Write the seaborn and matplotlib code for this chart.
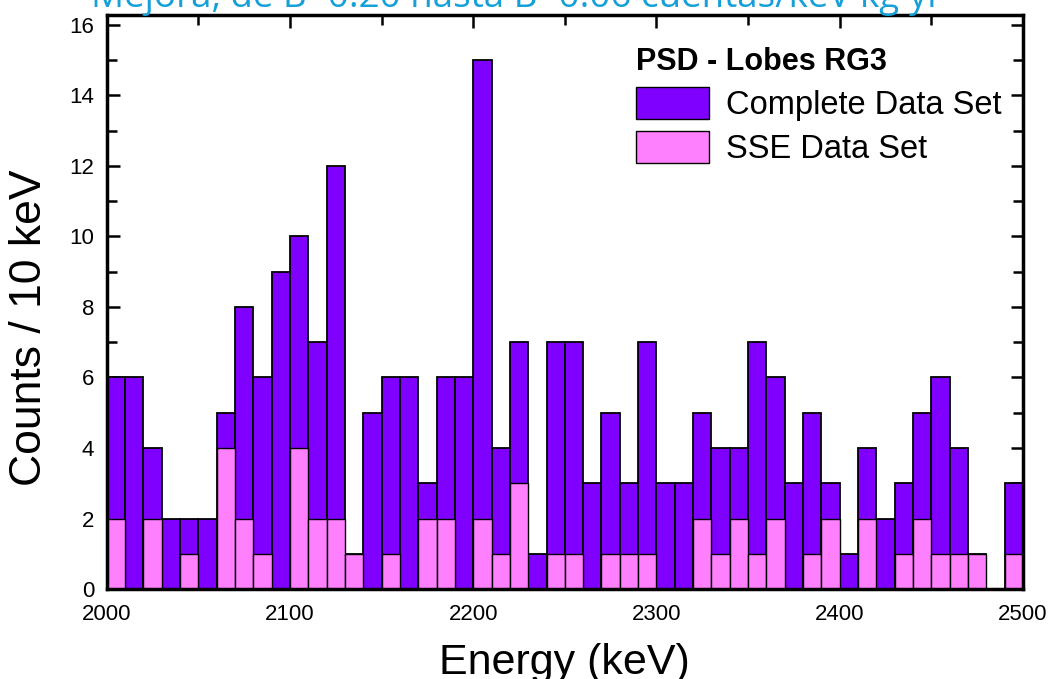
import numpy as np
import pandas as pd
import matplotlib
matplotlib.use("Agg")
import matplotlib.pyplot as plt
from matplotlib.patches import Patch
from matplotlib.ticker import MultipleLocator
import seaborn as sns

# ---- data (counts per 10 keV bin, 2000-2500 keV) ----
bin_start = np.arange(2000, 2500, 10)
complete_counts = [6, 6, 4, 2, 2, 2, 5, 8, 6, 9,
                   10, 7, 12, 1, 5, 6, 6, 3, 6, 6,
                   15, 4, 7, 1, 7, 7, 3, 5, 3, 7,
                   3, 3, 5, 4, 4, 7, 6, 3, 5, 3,
                   1, 4, 2, 3, 5, 6, 4, 1, 0, 3]
sse_counts = [2, 0, 2, 0, 1, 0, 4, 2, 1, 0,
              4, 2, 2, 1, 0, 1, 0, 2, 2, 0,
              2, 1, 3, 0, 1, 1, 0, 1, 1, 1,
              0, 0, 2, 1, 2, 1, 2, 0, 1, 2,
              0, 2, 0, 1, 2, 1, 1, 1, 0, 1]
x_ticks = [2000, 2100, 2200, 2300, 2400, 2500]
y_ticks = [0, 2, 4, 6, 8, 10, 12, 14, 16]

title_text = "Mejora, de B=0.20 hasta B=0.06 cuentas/keV\u00b7kg\u00b7yr"
legend_title = "PSD - Lobes RG3"
series_names = ["Complete Data Set", "SSE Data Set"]
colors = ["#8000FF", "#FF80FF"]

df = pd.DataFrame({"energy": bin_start + 5,
                   "complete": complete_counts,
                   "sse": sse_counts})

sns.set_theme(style="ticks")
plt.rcParams['font.family'] = ['Liberation Sans', 'DejaVu Sans']
plt.rcParams['text.color'] = 'black'
plt.rcParams['axes.labelcolor'] = 'black'

fig = plt.figure(figsize=(10.53, 6.79), dpi=100)
ax = fig.add_axes([0.1013, 0.1325, 0.9715 - 0.1013, 0.9779 - 0.1325])

sns.histplot(data=df, x="energy", weights="complete", binwidth=10,
             binrange=(2000, 2500),
             color=colors[0], alpha=1, edgecolor="black", linewidth=1.3,
             ax=ax)
sns.histplot(data=df, x="energy", weights="sse", binwidth=10,
             binrange=(2000, 2500),
             color=colors[1], alpha=1, edgecolor="black", linewidth=1.0,
             ax=ax)

ax.set_xlim(2000, 2500)
ax.set_ylim(0, 16.28)
ax.set_xticks(x_ticks)
ax.set_yticks(y_ticks)
ax.xaxis.set_minor_locator(MultipleLocator(50))
ax.yaxis.set_minor_locator(MultipleLocator(1))
ax.set_xticklabels([str(t) for t in x_ticks], fontsize=16)
ax.set_yticklabels([str(t) for t in y_ticks], fontsize=16)
ax.tick_params(which="both", direction="in", top=True, right=True,
               width=1.8, color="black", labelcolor="black")
ax.tick_params(which="major", length=9)
ax.tick_params(which="minor", length=7)
ax.tick_params(axis="x", which="major", pad=11)
ax.tick_params(axis="y", which="major", pad=9)
for s in ax.spines.values():
    s.set_linewidth(2.5)
    s.set_color("black")

ax.set_xlabel("Energy (keV)", fontsize=31)
ax.xaxis.set_label_coords(0.5, -0.094)
ax.xaxis.label.set_va("top")
ax.set_ylabel("Counts / 10 keV", fontsize=32)
ax.yaxis.set_label_coords(-0.062, 0.456)

handles = [Patch(facecolor=colors[0], edgecolor="black", linewidth=1.0),
           Patch(facecolor=colors[1], edgecolor="black", linewidth=1.0)]
leg = ax.legend(handles, series_names, title=legend_title,
                loc="upper left", bbox_to_anchor=(636 / 1053, 1 - 47 / 679),
                bbox_transform=fig.transFigure, frameon=False,
                fontsize=23.5, handlelength=2.25, handleheight=1.15,
                handletextpad=0.5, labelspacing=0.3, borderpad=0,
                borderaxespad=0,
                title_fontproperties={"weight": "bold", "size": 22})
leg._legend_box.align = "left"

fig.text(517 / 1053, 1 - 7 / 679, title_text, ha="center", va="baseline",
         fontsize=26.5, color="#16A0D8", family=["Open Sans", "DejaVu Sans"])

fig.savefig("out.png", dpi=100)
